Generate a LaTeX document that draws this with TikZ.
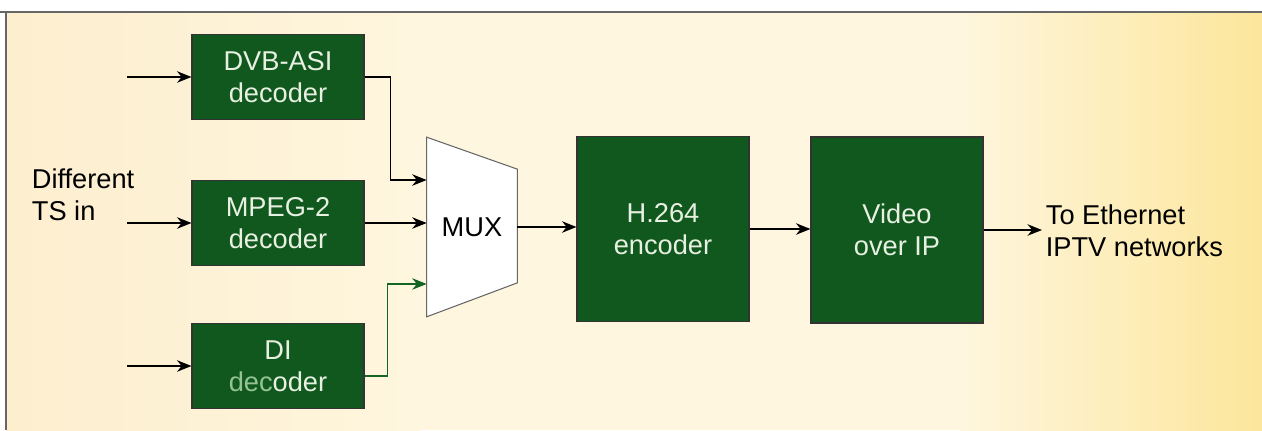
\documentclass[tikz,border=0pt]{standalone}
\usepackage{fontspec}
\setmainfont{Liberation Sans}
\usetikzlibrary{arrows.meta}

\definecolor{boxgreen}{RGB}{16,88,30}
\definecolor{boxtext}{RGB}{232,240,226}
\definecolor{fadegreen}{RGB}{150,195,150}
\definecolor{wiregreen}{RGB}{20,100,35}
\definecolor{paperleft}{RGB}{253,238,206}
\definecolor{papermid}{RGB}{254,246,222}
\definecolor{paperright}{RGB}{252,230,155}

\tikzset{
  block/.style={draw=black!80, fill=boxgreen, text=boxtext, align=center,
    minimum width=3.44cm, line width=0.6pt, font=\fontsize{15.5}{18}\selectfont},
  txt/.style={align=left, inner sep=2pt, font=\fontsize{15.5}{18.5}\selectfont},
  wire/.style={->, line width=0.8pt}
}

\begin{document}
\begin{tikzpicture}[x=0.02cm, y=-0.02cm, >={Stealth[length=2.9mm, width=2.3mm]}]
    \useasboundingbox (0,0) rectangle (1262,430);

    % --- Sfondo e cornice ---
    \fill[papermid] (6,12) rectangle (1262,430);
    \shade[left color=paperleft, right color=papermid] (6,12) rectangle (420,430);
    \shade[left color=papermid, right color=paperright] (960,12) rectangle (1262,430);
    \draw[black!60, line width=0.6pt] (0,12) -- (1262,12);
    \draw[black!60, line width=0.6pt] (6,12) -- (6,430);

    % --- Ingressi ---
    \node[txt, anchor=west] (tsin) at (28,195) {Different\\TS in};
    \coordinate (in1) at (127,77);
    \coordinate (in2) at (127,223);
    \coordinate (in3) at (127,366);

    % --- Decoder ---
    \node[block, minimum height=1.70cm] (dvb) at (278,77) {DVB-ASI\\decoder};
    \node[block, minimum height=1.70cm] (mpeg) at (278,223) {MPEG-2\\decoder};
    \node[block, minimum height=1.70cm] (sdi) at (278,366) {DI\\{\color{fadegreen}dec}oder};

    \draw[wire] (in1) -- (dvb.west);
    \draw[wire] (in2) -- (mpeg.west);
    \draw[wire] (in3) -- (sdi.west);

    % --- MUX (trapezio disegnato sugli angoli del nodo) ---
    \node[minimum width=1.8cm, minimum height=3.58cm] (mux) at (472,227) {};
    \draw[black!60, fill=white, line width=0.6pt] (mux.north west)
        -- ([yshift=-0.64cm]mux.north east) -- ([yshift=0.68cm]mux.south east)
        -- (mux.south west) -- cycle;
    \node[font=\fontsize{15.5}{18}\selectfont] (muxtxt) at (mux.center) {MUX};

    \draw[wire] (dvb.east) -- ++(26,0) |- ([yshift=0.94cm]mux.west);
    \draw[wire] (mpeg.east) -- (mpeg.east -| mux.west);
    \draw[wire, wiregreen] ([yshift=-0.2cm]sdi.east) -- ++(23,0) |- ([yshift=-1.14cm]mux.west);

    % --- Encoder e uscita IP ---
    \node[block, minimum height=3.70cm] (h264) at (663,229) {H.264\\encoder};
    \node[block, minimum height=3.72cm] (vip) at (897,230) {Video\\over IP};
    \node[txt, anchor=west] (eth) at (1042,231) {To Ethernet\\IPTV networks};

    \draw[wire] (mux.east) -- (mux.east -| h264.west);
    \draw[wire] (h264.east) -- (h264.east -| vip.west);
    \draw[wire] (vip.east) -- (vip.east -| eth.west);

\end{tikzpicture}
\end{document}
